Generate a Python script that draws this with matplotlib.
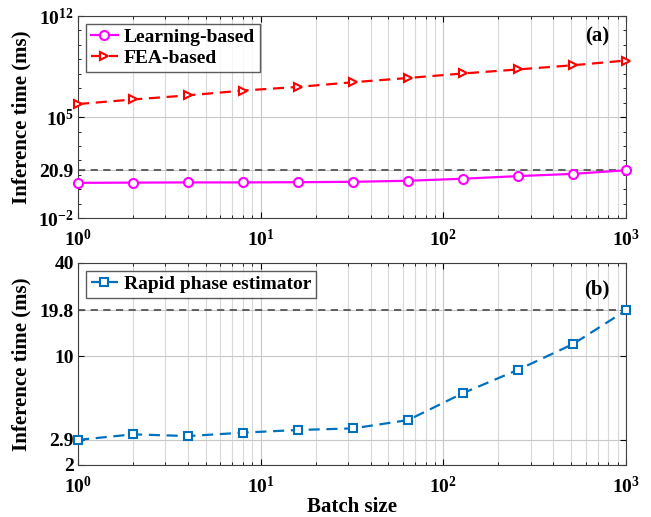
import numpy as np
import matplotlib.pyplot as plt
from matplotlib.ticker import LogLocator, NullLocator, FixedLocator, NullFormatter

plt.rcParams['font.family'] = ['Liberation Serif', 'DejaVu Serif']
plt.rcParams['font.weight'] = 'bold'
plt.rcParams['mathtext.fontset'] = 'custom'
plt.rcParams['mathtext.rm'] = 'Liberation Serif:bold'
plt.rcParams['mathtext.bf'] = 'Liberation Serif:bold'
plt.rcParams['mathtext.default'] = 'bf'

batch = [1, 2, 4, 8, 16, 32, 64, 128, 256, 512, 1000]
learning = [2.8, 2.9, 3.0, 3.0, 3.1, 3.3, 3.9, 5.4, 8.2, 11.7, 20.9]
fea = [8.0e5, 1.66e6, 3.2e6, 6.9e6, 1.23e7, 2.6e7, 5.1e7, 1.05e8, 2.0e8, 3.9e8, 8.3e8]
rapid = [2.9, 3.15, 3.07, 3.23, 3.36, 3.44, 3.89, 5.8, 8.2, 12.0, 19.8]

ref_a = 20.9
ref_b = 19.8
yt_a = [1e-2, 20.9, 1e5, 1e12]
yl_a = ['$10^{-2}$', '20.9', '$10^{5}$', '$10^{12}$']
yt_b = [2, 2.9, 10, 19.8, 40]
yl_b = ['2', '2.9', '10', '19.8', '40']
xt = [1, 10, 100, 1000]
xl = ['$10^{0}$', '$10^{1}$', '$10^{2}$', '$10^{3}$']

fig = plt.figure(figsize=(6.51, 5.17), dpi=100)
ax1 = fig.add_axes([0.1198, 0.578, 0.842, 0.391])
ax2 = fig.add_axes([0.1198, 0.1006, 0.842, 0.391])

def style(ax):
	ax.set_xscale('log')
	ax.set_xlim(1, 1000)
	ax.set_xticks(xt)
	ax.set_xticklabels(xl)
	ax.xaxis.set_minor_locator(LogLocator(base=10, subs=np.arange(2, 10)))
	ax.xaxis.set_minor_formatter(NullFormatter())
	ax.grid(True, which='major', color='#c8c8c8', linewidth=0.8)
	ax.grid(True, which='minor', axis='x', color='#d8d8d8', linewidth=0.8)
	ax.tick_params(which='both', direction='in', top=True, right=True, labelsize=14)
	ax.tick_params(axis='x', which='major', pad=8)
	ax.tick_params(axis='y', which='major', pad=3)
	ax.tick_params(which='major', length=4)
	ax.tick_params(which='minor', length=2.5)
	for s in ax.spines.values():
		s.set_color('#404040')
		s.set_linewidth(0.8)
	ax.set_axisbelow(True)

def legend(ax):
	leg = ax.legend(loc='upper left', fontsize=14, frameon=True, fancybox=False, borderpad=0.25,
		handlelength=1.4, handletextpad=0.3, labelspacing=0.15, borderaxespad=0.4)
	leg.get_frame().set_edgecolor('#333333')
	leg.get_frame().set_linewidth(1.0)

# (a)
style(ax1)
ax1.set_yscale('log')
ax1.set_ylim(1e-2, 1e12)
ax1.set_yticks(yt_a)
ax1.set_yticklabels(yl_a)
ax1.yaxis.set_minor_locator(FixedLocator([10.0**k for k in range(-1, 12) if k != 5]))
ax1.yaxis.set_minor_formatter(NullFormatter())
ax1.axhline(ref_a, color='#555555', linestyle=(0, (4, 3)), linewidth=1.3, zorder=2)
ax1.plot(batch, learning, color='#ff00ff', linestyle='-', linewidth=1.6, marker='o',
	markersize=6.5, markerfacecolor='white', markeredgewidth=1.5, label='Learning-based', zorder=3)
ax1.plot(batch, fea, color='#ff0000', linestyle=(0, (5, 3)), linewidth=1.6, marker='>',
	markersize=5.5, markerfacecolor='white', markeredgewidth=1.5, label='FEA-based', zorder=3)
ax1.set_ylabel('Inference time (ms)', fontsize=15, fontweight='bold')
ax1.yaxis.set_label_coords(-0.084, 0.5)
legend(ax1)
ax1.text(0.97, 0.9, '(a)', transform=ax1.transAxes, ha='right', va='center', fontsize=15, fontweight='bold')

# (b)
style(ax2)
ax2.set_yscale('log')
ax2.set_ylim(2, 40)
ax2.set_yticks(yt_b)
ax2.set_yticklabels(yl_b)
ax2.yaxis.set_minor_locator(NullLocator())
ax2.axhline(ref_b, color='#555555', linestyle=(0, (4, 3)), linewidth=1.3, zorder=2)
ax2.plot(batch, rapid, color='#0072bd', linestyle=(0, (5, 3)), linewidth=1.6, marker='s',
	markersize=5.5, markerfacecolor='white', markeredgewidth=1.5, label='Rapid phase estimator', zorder=3)
ax2.set_ylabel('Inference time (ms)', fontsize=15, fontweight='bold')
ax2.yaxis.set_label_coords(-0.084, 0.5)
ax2.set_xlabel('Batch size', fontsize=15, fontweight='bold', labelpad=0)
legend(ax2)
ax2.text(0.97, 0.87, '(b)', transform=ax2.transAxes, ha='right', va='center', fontsize=15, fontweight='bold')

for ax in (ax1, ax2):
	for line in ax.get_lines():
		line.set_clip_on(False)

fig.savefig('out.png', dpi=100)
